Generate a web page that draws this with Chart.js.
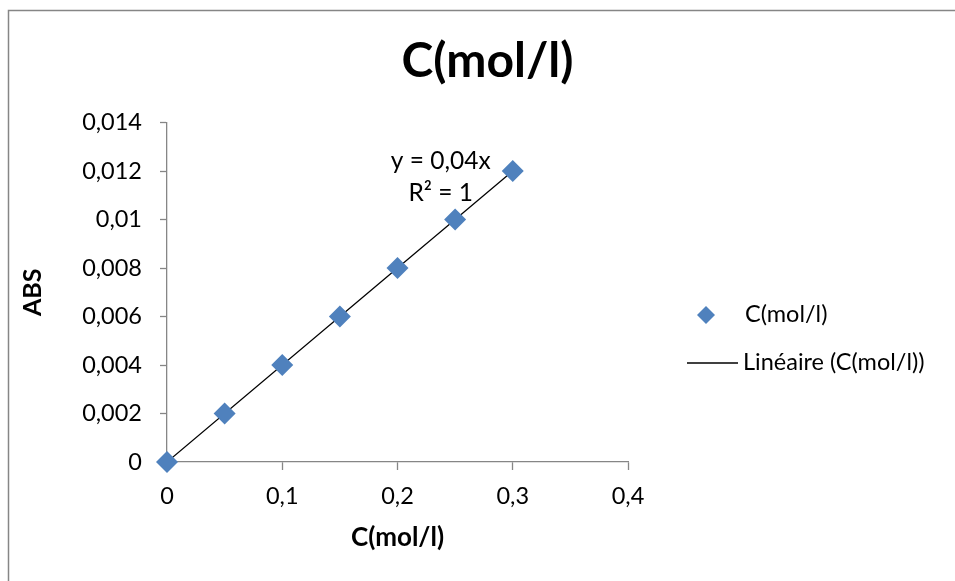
<!DOCTYPE html>
<html><head><meta charset="utf-8">
<script src="https://cdn.jsdelivr.net/npm/chart.js@4"></script>
<style>html,body{margin:0;padding:0;background:#fff}#wrap{width:955px;height:581px}</style>
</head><body><div id="wrap"><canvas id="c" width="955" height="581"></canvas></div>
<script>
const concentrations = [0, 0.05, 0.1, 0.15, 0.2, 0.25, 0.3];
const absorbances = [0, 0.002, 0.004, 0.006, 0.008, 0.010, 0.012];
const slope = 0.04;
const trendX = [0, 0.3];
const seriesName = 'C(mol/l)';
const trendName = 'Linéaire (C(mol/l))';
const equationLines = ['y = 0,04x', 'R² = 1'];
const FONT = 'Lato, "Open Sans", sans-serif';
const fmt = v => String(Math.round(v * 1000) / 1000).replace('.', ',');

const frame = {
  id: 'frame',
  beforeDraw(chart) {
    const ctx = chart.ctx;
    ctx.save();
    ctx.fillStyle = '#fff';
    ctx.fillRect(0, 0, chart.width, chart.height);
    ctx.strokeStyle = '#868686';
    ctx.lineWidth = 1.5;
    ctx.strokeRect(8.5, 10.5, chart.width + 10, chart.height + 10);
    ctx.restore();
  }
};
const extras = {
  id: 'extras',
  afterDraw(chart) {
    const ctx = chart.ctx, xs = chart.scales.x, ys = chart.scales.y;
    ctx.save();
    ctx.fillStyle = '#000';
    ctx.font = '24.5px ' + FONT;
    ctx.textAlign = 'center';
    ctx.textBaseline = 'middle';
    const ax = xs.getPixelForValue(0.3), ay = ys.getPixelForValue(0.012);
    ctx.fillText(equationLines[0], ax - 72, ay - 10);
    ctx.fillText(equationLines[1], ax - 72, ay + 22);
    // legend
    const lx = 706, ly1 = 315, ly2 = 363;
    ctx.fillStyle = '#4F81BD';
    ctx.beginPath();
    ctx.moveTo(lx, ly1 - 9); ctx.lineTo(lx + 9, ly1); ctx.lineTo(lx, ly1 + 9); ctx.lineTo(lx - 9, ly1);
    ctx.closePath(); ctx.fill();
    ctx.strokeStyle = '#000'; ctx.lineWidth = 1.3;
    ctx.beginPath(); ctx.moveTo(687, ly2); ctx.lineTo(738, ly2); ctx.stroke();
    ctx.fillStyle = '#000';
    ctx.font = '23.5px ' + FONT;
    ctx.textAlign = 'left';
    ctx.fillText(seriesName, 745, ly1 - 1);
    ctx.fillText(trendName, 743, ly2 - 1);
    ctx.restore();
  }
};

new Chart(document.getElementById('c'), {
  type: 'scatter',
  data: {
    datasets: [
      {
        label: trendName,
        data: trendX.map(x => ({x, y: slope * x})),
        showLine: true,
        borderColor: '#000',
        borderWidth: 1.3,
        pointRadius: 0,
        order: 2
      },
      {
        label: seriesName,
        data: concentrations.map((x, i) => ({x, y: absorbances[i]})),
        pointStyle: 'rectRot',
        pointRadius: 11,
        pointHoverRadius: 11,
        backgroundColor: '#4F81BD',
        borderColor: '#4F81BD',
        borderWidth: 0,
        clip: false,
        order: 1
      }
    ]
  },
  plugins: [frame, extras],
  options: {
    responsive: false,
    animation: false,
    events: [],
    layout: { padding: { left: 20, right: 0, top: 0, bottom: 0 } },
    plugins: {
      legend: { display: false },
      tooltip: { enabled: false },
      title: {
        display: true,
        text: 'C(mol/l)',
        color: '#000',
        font: { family: FONT, size: 48, weight: 'bold', lineHeight: 1.2 },
        padding: { top: 33, bottom: 32 }
      }
    },
    scales: {
      x: {
        type: 'linear', min: 0, max: 0.4,
        afterFit(s) { s.height = 119; },
        ticks: { stepSize: 0.1, color: '#000', font: { family: FONT, size: 23.5 }, padding: 12, callback: fmt, maxRotation: 0 },
        grid: { drawOnChartArea: false, drawTicks: true, tickLength: 8, tickColor: '#868686', tickWidth: 1.3 },
        border: { color: '#868686', width: 1.3 },
        title: { display: true, text: 'C(mol/l)', color: '#000', font: { family: FONT, size: 26, weight: 'bold', lineHeight: 1.2 }, padding: { top: 0, bottom: 28 } }
      },
      y: {
        type: 'linear', min: 0, max: 0.014,
        afterFit(s) { s.width = 147; },
        ticks: { stepSize: 0.002, color: '#000', font: { family: FONT, size: 23.5 }, padding: 18, callback: fmt },
        grid: { drawOnChartArea: false, drawTicks: true, tickLength: 7, tickColor: '#868686', tickWidth: 1.3 },
        border: { color: '#868686', width: 1.3 },
        title: { display: true, text: 'ABS', color: '#000', font: { family: FONT, size: 25, weight: 'bold', lineHeight: 1.2 }, padding: { top: -2, bottom: 0 } }
      },
      spacer: {
        type: 'linear', position: 'right', display: true,
        afterFit(s) { s.width = 327; },
        ticks: { display: false },
        grid: { display: false, drawOnChartArea: false },
        border: { display: false },
        title: { display: false }
      }
    }
  }
});
</script>
</body></html>
